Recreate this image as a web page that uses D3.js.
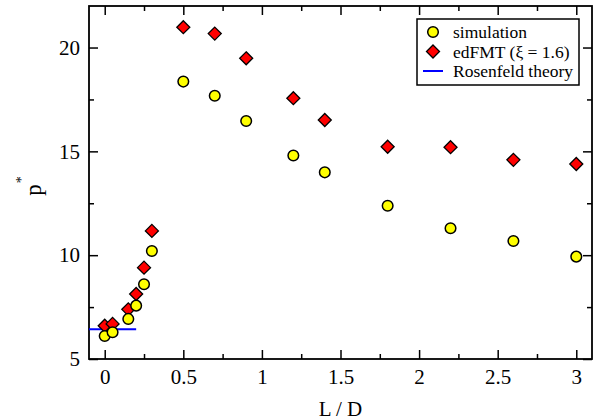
<!DOCTYPE html>
<html>
<head>
<meta charset="utf-8">
<script src="https://cdn.jsdelivr.net/npm/d3@7"></script>
<style>
  body { margin: 0; background: #fff; }
</style>
</head>
<body>
<div id="chart"></div>
<script>
// aspect ratio L/D and reduced pressure p*
const lengths = [0, 0.05, 0.15, 0.2, 0.25, 0.3, 0.5, 0.7, 0.9, 1.2, 1.4, 1.8, 2.2, 2.6, 3.0];
const simulation = [6.11, 6.29, 6.93, 7.57, 8.60, 10.20, 18.36, 17.68, 16.46, 14.80, 13.99, 12.38, 11.30, 10.68, 9.93];
const edfmt = [6.60, 6.69, 7.39, 8.13, 9.40, 11.17, 20.98, 20.67, 19.48, 17.56, 16.51, 15.22, 15.20, 14.59, 14.39];
const rosenfeldX = [-0.1, 0.2];
const rosenfeldY = [6.43, 6.43];
const xTicks = [0, 0.5, 1, 1.5, 2, 2.5, 3];
const yTicks = [5, 10, 15, 20];
const legendLabels = ["simulation", "edFMT (\u03BE = 1.6)", "Rosenfeld theory"];

const serif = "'Liberation Serif'";
const width = 597, height = 420;
const margin = {top: 6, right: 5, bottom: 61, left: 89};

const svg = d3.select("#chart").append("svg")
    .attr("width", width)
    .attr("height", height)
    .style("font-family", serif);

const x = d3.scaleLinear().domain([-0.1, 3.1]).range([margin.left, width - margin.right]);
const y = d3.scaleLinear().domain([5, 22]).range([height - margin.bottom, margin.top]);

const minorX = d3.range(0, 3.01, 0.25).filter(v => xTicks.indexOf(v) < 0);
const minorY = d3.range(5, 22, 2.5).filter(v => yTicks.indexOf(v) < 0);

function drawAxis(axis, ticks, size, labels) {
    let g = svg.append("g").call(axis.tickValues(ticks).tickSize(size).tickSizeOuter(0));
    g.attr("font-family", null).attr("font-size", null);
    g.select(".domain").remove();
    g.selectAll("line").attr("stroke", "#000").attr("stroke-width", 1.5);
    if (!labels) g.selectAll("text").remove();
    return g;
}

// ticks point inward on all four sides
const bottomY = y.range()[0], topY = y.range()[1];
const leftX = x.range()[0], rightX = x.range()[1];

let gx = drawAxis(d3.axisTop(x).tickFormat(d3.format("")), xTicks, 9, true);
gx.attr("transform", "translate(0," + bottomY + ")");
gx.selectAll("text").attr("y", 10).attr("dy", "0.71em")
    .style("font-family", serif).style("font-size", "21px").attr("fill", "#000");
drawAxis(d3.axisTop(x), minorX, 5, false).attr("transform", "translate(0," + bottomY + ")");
drawAxis(d3.axisBottom(x), xTicks, 9, false).attr("transform", "translate(0," + topY + ")");
drawAxis(d3.axisBottom(x), minorX, 5, false).attr("transform", "translate(0," + topY + ")");

let gy = drawAxis(d3.axisRight(y), yTicks, 9, true);
gy.attr("transform", "translate(" + leftX + ",0)");
gy.selectAll("text").attr("x", -9).attr("text-anchor", "end")
    .style("font-family", serif).style("font-size", "21px").attr("fill", "#000");
drawAxis(d3.axisRight(y), minorY, 5, false).attr("transform", "translate(" + leftX + ",0)");
drawAxis(d3.axisLeft(y), yTicks, 9, false).attr("transform", "translate(" + rightX + ",0)");
drawAxis(d3.axisLeft(y), minorY, 5, false).attr("transform", "translate(" + rightX + ",0)");

svg.append("rect")
    .attr("x", leftX).attr("y", topY)
    .attr("width", rightX - leftX).attr("height", bottomY - topY)
    .attr("fill", "none").attr("stroke", "#000").attr("stroke-width", 1.8);

// axis titles
svg.append("text")
    .attr("x", (leftX + rightX) / 2).attr("y", 416)
    .attr("text-anchor", "middle")
    .style("font-family", serif)
    .style("font-size", "21px")
    .text("L / D");

let yt = svg.append("text")
    .attr("transform", "translate(41,186) rotate(-90)")
    .attr("text-anchor", "middle")
    .style("font-family", serif)
    .style("font-size", "23px");
yt.append("tspan").text("p");
yt.append("tspan").attr("dy", "-15px").attr("dx", "1px").style("font-size", "14px").text("*");

// Rosenfeld line
svg.append("path")
    .datum(rosenfeldX.map((v, i) => [v, rosenfeldY[i]]))
    .attr("d", d3.line().x(d => x(d[0])).y(d => y(d[1])))
    .attr("stroke", "#0000ff").attr("stroke-width", 2).attr("fill", "none");

const diamond = "M0,-6.5L6.5,0L0,6.5L-6.5,0Z";

svg.append("g").selectAll("path")
    .data(lengths)
    .join("path")
    .attr("transform", (d, i) => "translate(" + x(d) + "," + y(edfmt[i]) + ")")
    .attr("d", diamond)
    .attr("fill", "#ff0000").attr("stroke", "#000").attr("stroke-width", 1.3);

svg.append("g").selectAll("circle")
    .data(lengths)
    .join("circle")
    .attr("cx", d => x(d))
    .attr("cy", (d, i) => y(simulation[i]))
    .attr("r", 5.3)
    .attr("fill", "#ffff00").attr("stroke", "#000").attr("stroke-width", 1.5);

// legend
let legend = svg.append("g");
legend.append("rect")
    .attr("x", 417).attr("y", 19).attr("width", 162).attr("height", 66)
    .attr("fill", "#fff").attr("stroke", "#000").attr("stroke-width", 1.5);

legendLabels.forEach(function(label, i) {
    let cy = 32 + i * 19.5;
    if (i == 0)
        legend.append("circle").attr("cx", 433).attr("cy", cy).attr("r", 5.3)
            .attr("fill", "#ffff00").attr("stroke", "#000").attr("stroke-width", 1.5);
    else if (i == 1)
        legend.append("path").attr("transform", "translate(433," + cy + ")").attr("d", diamond)
            .attr("fill", "#ff0000").attr("stroke", "#000").attr("stroke-width", 1.3);
    else
        legend.append("line").attr("x1", 423).attr("x2", 443).attr("y1", cy).attr("y2", cy)
            .attr("stroke", "#0000ff").attr("stroke-width", 2);
    legend.append("text")
        .attr("x", 453).attr("y", cy).attr("dy", "0.35em")
        .style("font-family", serif)
        .style("font-size", "17.5px")
        .text(label);
});
</script>
</body>
</html>
